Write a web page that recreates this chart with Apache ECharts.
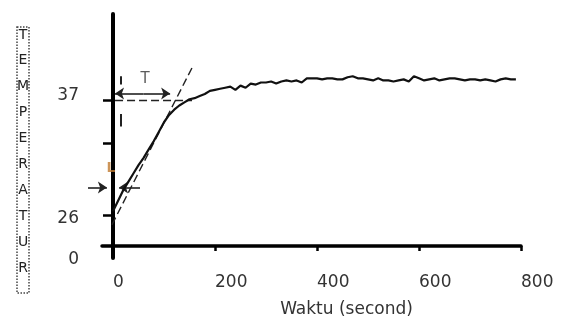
<!DOCTYPE html>
<html>
<head>
<meta charset="utf-8">
<script src="https://cdn.jsdelivr.net/npm/echarts@6/dist/echarts.min.js"></script>
<style>
  html, body { margin: 0; padding: 0; background: #fff; }
  #chart { width: 562px; height: 323px; }
</style>
</head>
<body>
<div id="chart"></div>
<script>
var times = [0, 10, 20, 30, 40, 50, 60, 70, 80, 90,
  100, 110, 120, 130, 140, 150, 160, 170, 180, 190,
  200, 210, 220, 230, 240, 250, 260, 270, 280, 290,
  300, 310, 320, 330, 340, 350, 360, 370, 380, 390,
  400, 410, 420, 430, 440, 450, 460, 470, 480, 490,
  500, 510, 520, 530, 540, 550, 560, 570, 580, 590,
  600, 610, 620, 630, 640, 650, 660, 670, 680, 690,
  700, 710, 720, 730, 740, 750, 760, 770, 780, 790];
var temps = [26.4, 27.4, 28.4, 29.2, 30.0, 30.8, 31.5, 32.3, 33.1, 34.0,
  34.9, 35.6, 36.1, 36.5, 36.8, 37.1, 37.2, 37.4, 37.6, 37.9,
  38.0, 38.1, 38.2, 38.3, 38.0, 38.4, 38.2, 38.6, 38.5, 38.7,
  38.7, 38.8, 38.6, 38.8, 38.9, 38.8, 38.9, 38.7, 39.1, 39.1,
  39.1, 39.0, 39.1, 39.1, 39.0, 39.0, 39.2, 39.3, 39.1, 39.1,
  39.0, 38.9, 39.1, 38.9, 38.9, 38.8, 38.9, 39.0, 38.8, 39.3,
  39.1, 38.9, 39.0, 39.1, 38.9, 39.0, 39.1, 39.1, 39.0, 38.9,
  39.0, 39.0, 38.9, 39.0, 38.9, 38.8, 39.0, 39.1, 39.0, 39.0];

var xLabels = [0, 200, 400, 600, 800];
var xTicks = [200, 400, 600, 800];
var yLabels = [21.92, 26, 37];   // axis bottom is labelled 0
var yTicks = [26, 32.9, 37];

// annotations (in data units)
var tangentLine = [[-2, 25.1], [158, 40.4]];
var setpointLine = [[4, 37], [155, 37]];
var tArrowLeft = [[60, 37.65], [4, 37.65]];
var tArrowRight = [[60, 37.65], [112, 37.65]];
var lArrowLeft = [[-49, 28.65], [-12, 28.65]];
var lArrowRight = [[53, 28.65], [12, 28.65]];
var marksT = [[[16, 39.3], [16, 38.5]], [[16, 35.7], [16, 34.5]]];
var textT = [63, 39.0];
var textL = [-4, 30.45];

var font = 'DejaVu Sans';
var chart = echarts.init(document.getElementById('chart'));

var curve = times.map(function (t, i) { return [t, temps[i]]; });

function yLabelFmt(v) {
  if (v < 23) return '{z|0}';
  if (v === 37) return '{a|37}';
  return '{b|' + v + '}';
}
var labStyle = { fontSize: 17, fontFamily: font, color: '#333' };

chart.setOption({
  animation: false,
  backgroundColor: '#fff',
  grid: { left: 102, right: 41, top: 14, bottom: 63 },
  xAxis: {
    type: 'value',
    min: -21.57,
    max: 800,
    offset: -12,
    splitLine: { show: false },
    axisLine: { lineStyle: { color: '#000', width: 3.5 } },
    axisTick: { customValues: xTicks, length: 5, lineStyle: { color: '#000', width: 2.5 } },
    axisLabel: {
      customValues: xLabels,
      align: 'left',
      margin: 28,
      fontSize: 17,
      fontFamily: font,
      color: '#333'
    },
    name: 'Waktu (second)',
    nameLocation: 'middle',
    nameGap: 55,
    nameTextStyle: { fontSize: 17, fontFamily: font, color: '#333', padding: [0, 0, 0, 70] }
  },
  yAxis: {
    type: 'value',
    min: 21.92,
    max: 45.25,
    offset: -11,
    splitLine: { show: false },
    axisLine: { lineStyle: { color: '#000', width: 4 } },
    axisTick: { customValues: yTicks, length: 10, lineStyle: { color: '#000', width: 2.5 } },
    axisLabel: {
      customValues: yLabels,
      margin: 34,
      formatter: yLabelFmt,
      rich: {
        a: Object.assign({ padding: [0, 0, 10, 0] }, labStyle),
        b: Object.assign({ padding: [6, 0, 0, 0] }, labStyle),
        z: Object.assign({ padding: [4, 0, 0, 0] }, labStyle)
      }
    }
  },
  graphic: [
    {
      type: 'rect',
      shape: { x: 17, y: 27, width: 12, height: 266 },
      style: { fill: 'none', stroke: '#444', lineWidth: 1.5, lineDash: [1.5, 1.5] }
    },
    {
      type: 'text',
      x: 23,
      y: 22,
      style: {
        text: 'T\nE\nM\nP\nE\nR\nA\nT\nU\nR',
        font: '14px "DejaVu Sans"',
        fill: '#222',
        align: 'center',
        verticalAlign: 'top',
        lineHeight: 25.9
      }
    }
  ],
  series: [
    {
      type: 'line',
      data: curve,
      showSymbol: false,
      lineStyle: { color: '#111', width: 2.2 },
      z: 5
    },
    {
      type: 'lines',
      coordinateSystem: 'cartesian2d',
      clip: false,
      symbol: 'none',
      lineStyle: { color: '#222', width: 1.4, type: [8, 4], opacity: 1 },
      data: [{ coords: tangentLine }, { coords: setpointLine }]
    },
    {
      type: 'lines',
      coordinateSystem: 'cartesian2d',
      clip: false,
      symbol: ['none', 'arrow'],
      symbolSize: 9,
      lineStyle: { color: '#222', width: 1.6, opacity: 1 },
      data: [{ coords: tArrowLeft }, { coords: tArrowRight }, { coords: lArrowLeft }, { coords: lArrowRight }]
    },
    {
      type: 'lines',
      coordinateSystem: 'cartesian2d',
      symbol: 'none',
      lineStyle: { color: '#222', width: 2, opacity: 1 },
      data: marksT.map(function (c) { return { coords: c }; })
    },
    {
      type: 'scatter',
      symbolSize: 0,
      data: [
        { value: textT, label: { formatter: 'T', color: '#333', fontSize: 15 } },
        { value: textL, label: { formatter: 'L', color: '#c07a30', fontSize: 14, fontWeight: 'bold' } }
      ],
      label: { show: true, position: 'inside', fontFamily: font },
      z: 6
    }
  ]
});
</script>
</body>
</html>
